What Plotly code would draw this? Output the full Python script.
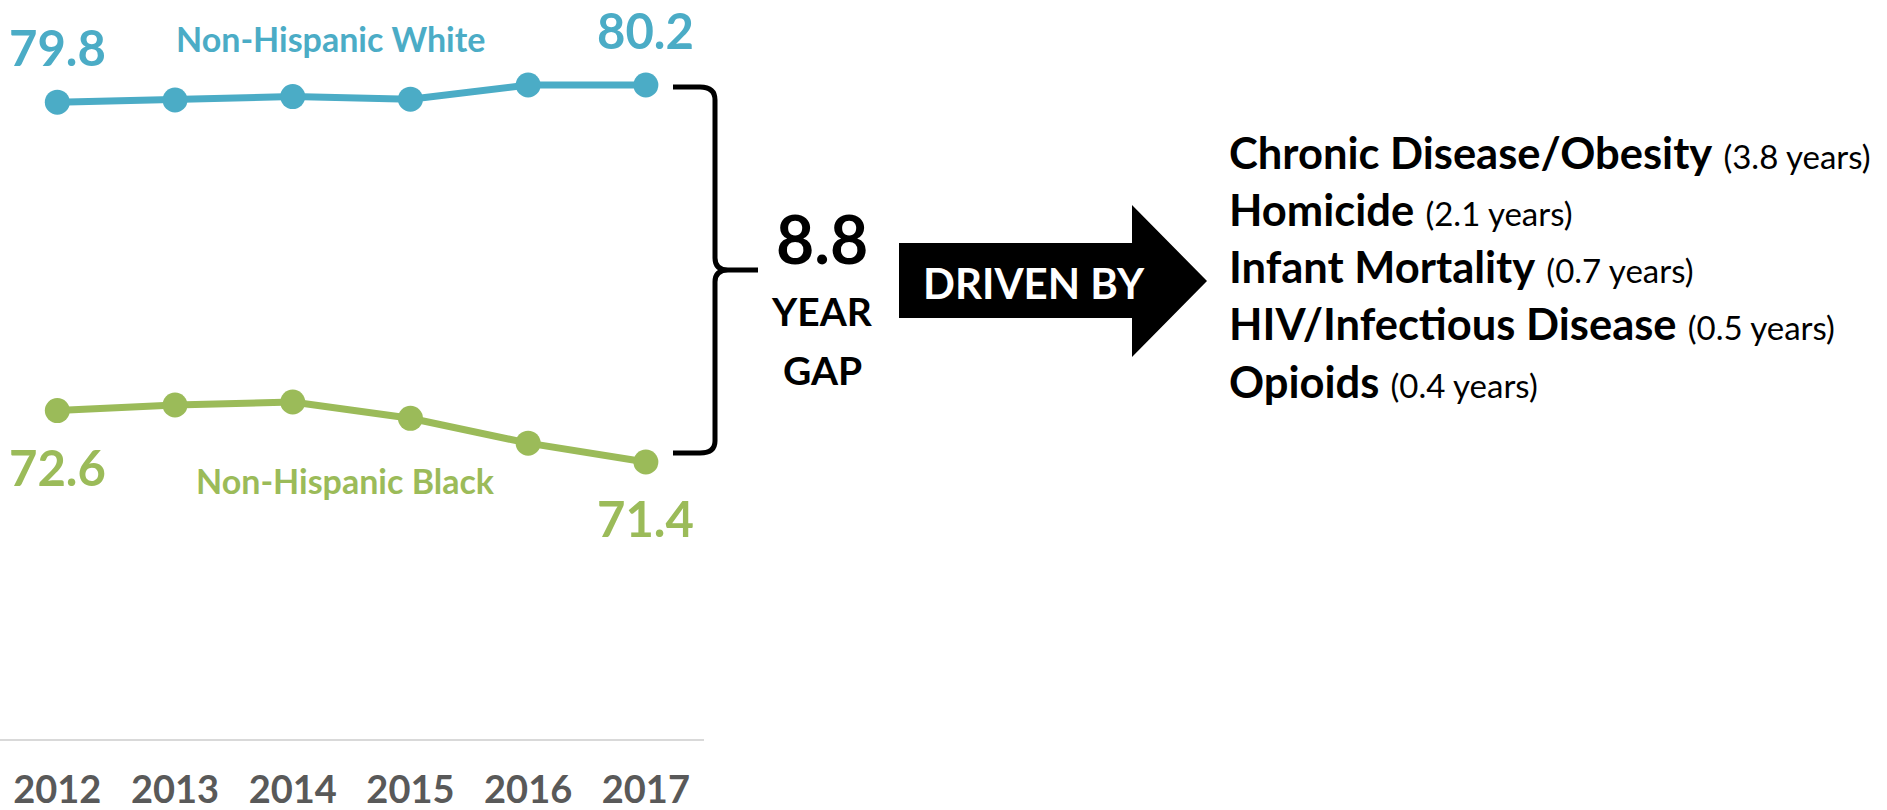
import plotly.graph_objects as go

# Life expectancy at birth, by race/ethnicity
years = [2012, 2013, 2014, 2015, 2016, 2017]
white_le = [79.8, 79.85, 79.93, 79.87, 80.2, 80.2]
black_le = [72.6, 72.73, 72.8, 72.42, 71.84, 71.4]

# Contributors to the gap (years of life expectancy)
causes = ["Chronic Disease/Obesity", "Homicide", "Infant Mortality",
          "HIV/Infectious Disease", "Opioids"]
cause_years = [3.8, 2.1, 0.7, 0.5, 0.4]

W, H = 1887, 810
BLUE = "#4BACC6"
GREEN = "#9BBB59"
FONT = "Lato"


def px(x):
    return x / W


def py(y):
    return 1 - y / H


def label(x, y, text, size, color, **kw):
    d = dict(x=px(x), y=py(y), xref="paper", yref="paper", text=text,
             showarrow=False, xanchor="center", yanchor="middle",
             font=dict(family=FONT, size=size, color=color, weight="bold"))
    d.update(kw)
    return d


fig = go.Figure()

fig.add_trace(go.Scatter(
    x=years, y=white_le, mode="lines+markers",
    line=dict(color=BLUE, width=7),
    marker=dict(color=BLUE, size=25),
    hoverinfo="skip", showlegend=False))
fig.add_trace(go.Scatter(
    x=years, y=black_le, mode="lines+markers",
    line=dict(color=GREEN, width=7),
    marker=dict(color=GREEN, size=25),
    hoverinfo="skip", showlegend=False))

ann = []

# end-point value labels
for i in (0, -1):
    ann.append(dict(x=years[i], y=white_le[i], xref="x", yref="y",
                    text=f"{white_le[i]:.1f}", showarrow=False, yshift=55,
                    xanchor="center", yanchor="middle",
                    font=dict(family=FONT, size=49, color=BLUE, weight="bold")))
    ann.append(dict(x=years[i], y=black_le[i], xref="x", yref="y",
                    text=f"{black_le[i]:.1f}", showarrow=False, yshift=-56,
                    xanchor="center", yanchor="middle",
                    font=dict(family=FONT, size=49, color=GREEN, weight="bold")))

# series names
ann.append(label(330, 38, "Non-Hispanic White", 34, BLUE))
ann.append(label(345, 481, "Non-Hispanic Black", 34, GREEN))

# gap callout
gap = white_le[-1] - black_le[-1]
ann.append(label(822, 238, f"{gap:.1f}", 66, "black"))
ann.append(label(822, 311, "YEAR", 39, "black"))
ann.append(label(822, 370, "GAP", 39, "black"))
ann.append(label(1034, 283, "DRIVEN BY", 42, "white"))

# list of drivers
line_y = [152, 209, 266, 323, 381]
for name, val, yy in zip(causes, cause_years, line_y):
    ann.append(dict(x=px(1227), y=py(yy), xref="paper", yref="paper",
                    xanchor="left", yanchor="middle", showarrow=False,
                    text=f"<b>{name}</b> <span style='font-size:33px'>({val:.1f} years)</span>",
                    font=dict(family=FONT, size=43.5, color="black")))

shapes = []

# curly brace spanning the 2017 gap
brace = (
    f"M {px(673)},{py(87)} L {px(700)},{py(87)} "
    f"Q {px(715)},{py(87)} {px(715)},{py(100)} "
    f"L {px(715)},{py(258)} "
    f"Q {px(715)},{py(270)} {px(728)},{py(270)} "
    f"L {px(758)},{py(270)} "
    f"M {px(728)},{py(270)} "
    f"Q {px(715)},{py(270)} {px(715)},{py(282)} "
    f"L {px(715)},{py(441)} "
    f"Q {px(715)},{py(453)} {px(700)},{py(453)} "
    f"L {px(673)},{py(453)}"
)
shapes.append(dict(type="path", xref="paper", yref="paper", path=brace,
                   line=dict(color="black", width=5)))

# block arrow
arrow_pts = [(899, 243), (1132, 243), (1132, 205), (1207, 281),
             (1132, 357), (1132, 318), (899, 318)]
arrow = "M " + " L ".join(f"{px(a)},{py(b)}" for a, b in arrow_pts) + " Z"
shapes.append(dict(type="path", xref="paper", yref="paper", path=arrow,
                   fillcolor="black", line=dict(color="black", width=0)))

fig.update_layout(
    width=W, height=H,
    margin=dict(l=0, r=0, t=0, b=0, autoexpand=False),
    paper_bgcolor="white", plot_bgcolor="white",
    annotations=ann, shapes=shapes,
    xaxis=dict(domain=[0, 704 / W], range=[2011.513, 2017.494],
               automargin=False,
               tickvals=years, ticktext=[str(y) for y in years],
               ticks="outside", ticklen=16, tickcolor="rgba(0,0,0,0)",
               tickfont=dict(family=FONT, size=38, color="#595959", weight="bold"),
               showline=True, linecolor="#D9D9D9", linewidth=2,
               showgrid=False, zeroline=False, fixedrange=True),
    yaxis=dict(domain=[(H - 739) / H, 1], range=[64.934, 82.184],
               automargin=False,
               visible=False, showgrid=False, zeroline=False, fixedrange=True),
)

fig.write_html("out.html", config={"displayModeBar": False})
